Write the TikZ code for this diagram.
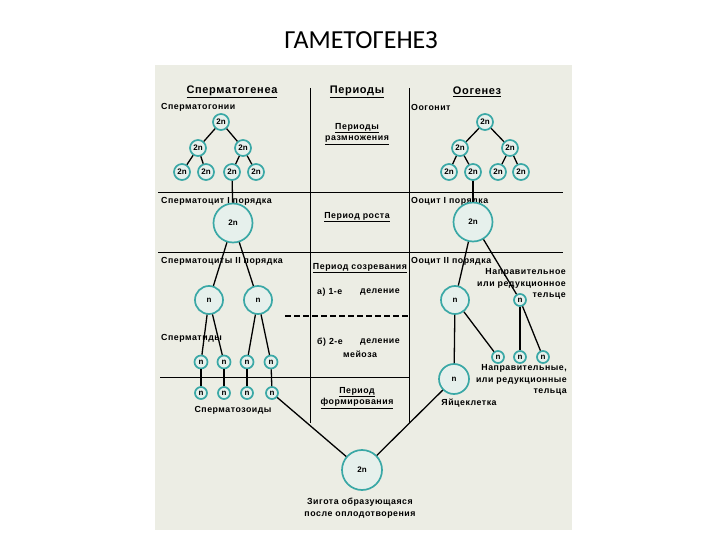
\documentclass[tikz,border=0pt]{standalone}
\usepackage{fontspec}
\usepackage{tikz}
\usetikzlibrary{shapes,calc}
\setmainfont{Liberation Sans}
\newfontfamily\titlefont{Carlito}
\newfontfamily\labfont[LetterSpace=6]{Liberation Sans}
\definecolor{panel}{HTML}{ECEDE4}
\definecolor{ring}{HTML}{3AA8A6}
\definecolor{cellin}{HTML}{E6F0EC}
\tikzstyle{edge}=[line width=1.3pt]
\tikzstyle{rule}=[line width=1pt]
\tikzstyle{ruleDashed}=[line width=1.2pt, dash pattern=on 6pt off 3pt]
\tikzstyle{lab}=[inner sep=0pt, font=\labfont\bfseries\fontsize{8.8}{11.5}\selectfont]
\tikzstyle{head}=[inner sep=0pt, font=\labfont\bfseries\fontsize{11}{13}\selectfont]
\tikzstyle{cellS}=[circle, draw=ring, fill=cellin, line width=1.7pt, minimum size=16pt, inner sep=0pt, font=\bfseries\fontsize{8}{9}\selectfont]
\tikzstyle{cellT}=[cellS, minimum size=13pt]
\tikzstyle{cellP}=[cellS, minimum size=12pt]
\tikzstyle{cellM}=[cellS, minimum size=28pt]
\tikzstyle{cellL}=[cellS, minimum size=39pt]
\begin{document}
\begin{tikzpicture}[x=1pt, y=-1pt]
  \useasboundingbox (0,0) rectangle (720,540);
  \fill[white] (0,0) rectangle (720,540);
  \node (title) at (361,40) {\titlefont\fontsize{26}{28}\selectfont ГАМЕТОГЕНЕЗ};
  \fill[panel] (155,65) rectangle (572,530);
  %%%%%%%%%%%% rules of the table
  \draw[rule] (310,88) -- (310,423);
  \draw[rule] (409,88) -- (409,423);
  \draw[rule] (158,193) -- (563,193);
  \draw[rule] (158,252) -- (563,252);
  \draw[ruleDashed] (285,316) -- (409,316);
  \draw[rule] (160,377) -- (409,377);
  %%%%%%%%%%%% headings
  \node[head] (hS) at (232,92) {\underline{Сперматогенеа}};
  \node[head] (hP) at (357,92) {\underline{Периоды}};
  \node[head] (hO) at (477,92) {\underline{Оогенез}};
  %%%%%%%%%%%% Сперматогенез
  \node[lab, anchor=west] (tS1) at (161,107) {Сперматогонии};
  \node(s0) [cellS] at (221,122){2n};
  \node(s1) [cellS] at (198,148){2n};
  \node(s2) [cellS] at (243,148){2n};
  \node(s3) [cellS] at (182,172){2n};
  \node(s4) [cellS] at (206,172){2n};
  \node(s5) [cellS] at (232,172){2n};
  \node(s6) [cellS] at (256,172){2n};
  \draw[edge] (s0) to (s1);
  \draw[edge] (s0) to (s2);
  \draw[edge] (s1) to (s3);
  \draw[edge] (s1) to (s4);
  \draw[edge] (s2) to (s5);
  \draw[edge] (s2) to (s6);
  \node[lab, anchor=west] (tS2) at (161,201) {Сперматоцит I порядка};
  \node(sc1) [cellL] at (233,223){2n};
  \draw[edge] (s5) to (sc1);
  \node[lab, anchor=west] (tS3) at (161,261) {Сперматоциты II порядка};
  \node(sc2) [cellM] at (209,300){n};
  \node(sc3) [cellM] at (258,300){n};
  \draw[edge] (sc1) to (sc2);
  \draw[edge] (sc1) to (sc3);
  \node[lab, anchor=west] (tS4) at (161,338) {Сперматиды};
  \node(st1) [cellT] at (201,362){n};
  \node(st2) [cellT] at (224,362){n};
  \node(st3) [cellT] at (247,362){n};
  \node(st4) [cellT] at (271,362){n};
  \draw[edge] (sc2) to (st1);
  \draw[edge] (sc2) to (st2);
  \draw[edge] (sc3) to (st3);
  \draw[edge] (sc3) to (st4);
  \node(sz1) [cellP] at (201,393){n};
  \node(sz2) [cellP] at (224,393){n};
  \node(sz3) [cellP] at (247,393){n};
  \node(sz4) [cellP] at (272,393){n};
  \draw[edge] (st1) to (sz1);
  \draw[edge] (st2) to (sz2);
  \draw[edge] (st3) to (sz3);
  \draw[edge] (st4) to (sz4);
  \node[lab] (tS5) at (233,410) {Сперматозоиды};
  %%%%%%%%%%%% Периоды
  \node[lab, align=center] (p1) at (357,134) {\underline{Периоды}\\\underline{размножения}};
  \node[lab] (p2) at (357,217) {\underline{Период роста}};
  \node[lab] (p3) at (360,268) {\underline{Период созревания}};
  \node[lab, anchor=west] (p4a) at (317,292) {а) 1-е};
  \node[lab, anchor=west] (p4b) at (360,292) {деление};
  \node[lab, anchor=west] (p5a) at (317,342) {б) 2-е};
  \node[lab, anchor=west] (p5b) at (360,342) {деление};
  \node[lab] (p5c) at (360,354) {мейоза};
  \node[lab, align=center] (p6) at (357,398) {\underline{Период}\\\underline{формирования}};
  %%%%%%%%%%%% Оогенез
  \node[lab, anchor=west] (tO1) at (411,107) {Оогонит};
  \node(o0) [cellS] at (485,122){2n};
  \node(o1) [cellS] at (460,148){2n};
  \node(o2) [cellS] at (510,148){2n};
  \node(o3) [cellS] at (449,172){2n};
  \node(o4) [cellS] at (473,172){2n};
  \node(o5) [cellS] at (498,172){2n};
  \node(o6) [cellS] at (521,172){2n};
  \draw[edge] (o0) to (o1);
  \draw[edge] (o0) to (o2);
  \draw[edge] (o1) to (o3);
  \draw[edge] (o1) to (o4);
  \draw[edge] (o2) to (o5);
  \draw[edge] (o2) to (o6);
  \node[lab, anchor=west] (tO2) at (411,201) {Ооцит I порядка};
  \node(oc1) [cellL] at (473,222){2n};
  \draw[edge] (o4) to (oc1);
  \node[lab, anchor=west] (tO3) at (411,261) {Ооцит II порядка};
  \node(oc2) [cellM] at (455,300){n};
  \node(pb1) [cellP] at (520,300){n};
  \draw[edge] (oc1) to (oc2);
  \draw[edge] (oc1) to (pb1);
  \node[lab, align=right, anchor=east] (tO4) at (566,284) {Направительное\\или редукционное\\тельце};
  \node(eg) [cellM, minimum size=30pt] at (454,379){n};
  \node(pb2) [cellP] at (498,357){n};
  \node(pb3) [cellP] at (520,357){n};
  \node(pb4) [cellP] at (543,357){n};
  \draw[edge] (oc2) to (eg);
  \draw[edge] (oc2) to (pb2);
  \draw[edge] (pb1) to (pb3);
  \draw[edge] (pb1) to (pb4);
  \node[lab, align=right, anchor=east] (tO5) at (567,380) {Направительные,\\или редукционные\\тельца};
  \node[lab] (tO6) at (469,403) {Яйцеклетка};
  %%%%%%%%%%%% Зигота
  \node(zy) [cellL, minimum size=40pt] at (362,470){2n};
  \draw[edge] (sz4) to (zy);
  \draw[edge] (eg) to (zy);
  \node[lab, align=center] (tZ) at (360,508) {Зигота образующаяся\\после оплодотворения};
\end{tikzpicture}
\end{document}
